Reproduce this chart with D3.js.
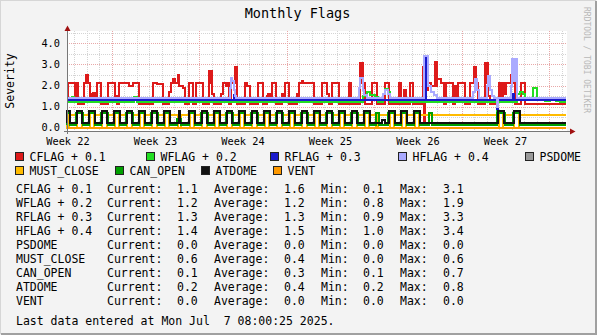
<!DOCTYPE html>
<html>
<head>
<meta charset="utf-8">
<script src="https://cdn.jsdelivr.net/npm/d3@7"></script>
<style>
  html, body { margin: 0; padding: 0; background: #f3f3f3; }
  svg { display: block; }
  text { font-family: "DejaVu Sans Mono", "Liberation Mono", monospace; fill: #000; }
</style>
</head>
<body>
<svg id="chart" width="597" height="335"></svg>
<script>
// ---- time base: every time value below is in days since the graph start ----
const DAY = 864e5;
const graphStart = Date.UTC(2025, 4, 29, 10, 12);
const graphDays = 40;
const dataEnd = 39.92;

// ---- flag series (value + offset), stepped: [day, value] ----
const cflag = [
  [0.00,1.3],[0.06,2.1],[0.86,1.1],[1.38,2.1],[1.52,2.5],[1.68,2.1],[1.84,1.5],[1.92,1.6],[2.10,1.4],
  [2.38,2.1],[2.72,1.1],[3.26,2.1],[3.86,1.5],[3.98,1.1],[4.18,2.1],[4.98,2.0],[5.26,2.1],[5.74,1.1],
  [6.90,2.1],[7.22,2.05],[7.70,1.1],[8.18,1.7],[8.32,2.1],[8.46,2.3],[8.66,2.1],[8.86,2.5],[8.92,2.0],
  [9.26,1.9],[9.46,1.1],[9.78,2.1],[10.10,1.1],[10.32,2.1],[10.86,1.1],[11.38,2.7],[11.60,1.6],[11.78,1.1],
  [12.32,1.6],[12.48,2.1],[12.70,2.0],[12.84,2.1],[12.98,1.1],[13.10,2.1],[13.42,2.9],[13.62,1.1],
  [14.22,2.1],[14.40,2.0],[14.66,1.1],[15.28,2.1],[15.66,1.1],[16.00,1.5],[16.40,2.1],[16.72,1.1],
  [17.20,1.5],[17.46,2.1],[17.74,1.1],[18.40,1.5],[18.54,2.1],[18.80,2.2],[18.90,2.1],[19.74,1.1],
  [20.40,2.1],[20.80,1.6],[20.96,1.1],[21.20,2.1],[21.74,1.1],[22.54,2.1],[22.70,1.1],[23.42,3.05],
  [23.66,2.1],[23.82,1.1],[24.40,2.1],[24.78,1.1],[25.44,2.1],[25.74,1.1],[26.54,2.1],[26.74,1.1],
  [26.96,1.6],[27.14,1.1],[27.42,2.1],[27.68,1.1],[28.48,2.9],[28.58,0.1],[28.66,2.9],[28.88,2.1],
  [29.14,2.0],[29.42,3.1],[29.58,2.3],[29.92,2.1],[30.14,1.1],[30.34,2.1],[30.88,1.1],[31.02,2.0],
  [31.28,2.1],[31.82,1.1],[32.22,2.1],[32.56,2.9],[32.74,2.1],[32.88,1.1],[33.46,3.05],[33.70,1.5],
  [33.84,1.1],[34.38,0.7],[34.46,1.1],[34.48,1.4],[34.56,2.1],[34.70,1.5],[34.84,2.1],[35.00,1.6],
  [35.10,2.1],[35.54,2.5],[35.70,2.1],[35.82,1.1],[36.34,2.1],[36.62,1.1],[39.92,1.1]
];
// stretches where CFLAG flickers between two levels: [from, to, low, high]
const cflagFlicker = [
  [0.66,0.86,1.3,2.1],[2.10,2.38,1.4,1.65],[11.38,11.60,2.1,2.7],[13.42,13.62,2.1,2.9],
  [16.06,16.36,1.4,1.6],[17.20,17.46,1.4,1.6],[18.40,18.54,1.4,1.6],[23.42,23.66,2.1,3.05],
  [26.96,27.14,1.45,1.8],[28.48,28.58,1.1,2.9],[28.66,28.88,1.8,2.9],[29.42,29.58,2.0,3.1],
  [31.02,31.24,1.4,2.0],[33.46,33.70,2.1,3.05]
];
const wflag = [
  [0.00,1.2],[0.40,1.45],[0.58,1.2],[5.38,1.45],[5.58,1.2],[23.68,1.5],[24.00,1.7],[24.24,1.55],
  [24.64,1.45],[24.88,1.2],[25.28,1.6],[25.40,1.85],[25.68,1.7],[25.80,1.2],[34.38,0.8],[34.46,1.2],
  [36.00,1.6],[36.24,1.7],[36.48,1.6],[36.64,1.3],[37.30,1.9],[37.58,1.35],[37.84,1.3],[38.24,1.25],
  [38.64,1.3],[39.12,1.25],[39.44,1.2],[39.92,1.2]
];
const rflag = [
  [0.00,1.3],[13.34,1.55],[13.44,1.3],[28.58,3.3],[28.70,1.3],[34.38,0.9],[34.46,1.3],
  [35.60,1.6],[35.76,1.3],[39.92,1.3]
];
const hflag = [
  [0.00,1.4],[13.06,1.9],[13.12,2.35],[13.22,2.2],[13.32,1.8],[13.44,1.5],[13.52,1.4],
  [23.32,1.9],[23.42,2.35],[23.64,1.8],[23.76,1.55],[24.00,1.4],[25.28,1.6],[25.44,1.8],[25.68,1.6],
  [25.84,1.4],[28.54,3.4],[28.88,2.0],[29.12,1.7],[29.36,1.55],[29.60,1.4],[32.48,1.7],[32.60,2.3],
  [32.80,1.8],[32.92,1.4],[33.56,2.0],[33.64,2.45],[33.84,1.8],[34.00,1.5],[34.16,1.4],[34.38,1.0],
  [34.46,1.4],[35.48,2.0],[35.60,3.25],[36.00,1.4],[39.92,1.4]
];
const hflagFlicker = [[35.62,35.96,2.2,3.2]];

// ---- dome series: base level plus [from, to, level] stretches ----
const psdomeBase = 0.0;
const ventBase = 0.0;
const mustCloseBase = 0.6;
const mustCloseOff = [
  [0.00,0.18,0],[0.80,1.18,0],[1.80,2.18,0],[2.80,3.18,0],[3.80,4.18,0],[4.80,5.18,0],[5.80,6.18,0],
  [6.80,7.18,0],[7.80,8.18,0],[8.86,9.12,0],[9.80,10.18,0],[10.80,11.18,0],[11.80,12.18,0],
  [12.80,13.18,0],[13.80,14.18,0],[14.80,15.18,0],[15.80,16.18,0],[16.80,17.18,0],[17.80,18.18,0],
  [18.80,19.18,0],[19.80,20.18,0],[20.80,21.18,0],[21.80,22.18,0],[22.80,23.18,0],[23.80,24.18,0],
  [24.74,24.90,0],[25.80,26.18,0],[26.76,27.14,0],[27.80,28.18,0],[34.52,34.90,0],[35.76,36.14,0]
];
const canOpenBase = 0.1;
const canOpenOn = [
  [0.00,0.25,0.7],[0.73,1.25,0.7],[1.73,2.25,0.7],[2.73,3.25,0.7],[3.73,4.25,0.7],[4.73,5.25,0.7],
  [5.73,6.25,0.7],[6.73,7.25,0.7],[7.73,8.25,0.7],[8.82,9.12,0.4],[9.73,10.25,0.7],[10.73,11.25,0.7],
  [11.73,12.25,0.7],[12.73,13.25,0.7],[13.73,14.25,0.7],[14.73,15.25,0.7],[15.73,16.25,0.7],
  [16.73,17.25,0.7],[17.73,18.25,0.7],[18.73,19.25,0.7],[19.73,20.25,0.7],[20.73,21.25,0.7],
  [21.73,22.25,0.7],[22.73,23.25,0.7],[23.73,24.25,0.7],[24.72,24.92,0.7],[25.70,26.25,0.7],
  [26.70,27.20,0.7],[27.73,28.25,0.7],[28.96,29.16,0.7],[34.42,35.00,0.7],[35.66,36.26,0.7]
];
const atdomeBase = 0.2;
const atdomeOpen = [
  [0.00,0.22,0.8],[0.78,1.22,0.8],[1.78,2.21,0.8],[2.79,3.22,0.8],[3.78,4.22,0.8],[4.78,5.21,0.8],
  [5.79,6.22,0.8],[6.78,7.22,0.8],[7.78,8.21,0.8],[8.98,9.05,0.8],[9.78,10.22,0.8],[10.78,11.21,0.8],
  [11.79,12.22,0.8],[12.78,13.22,0.8],[13.78,14.21,0.8],[14.78,15.22,0.8],[15.79,16.22,0.8],
  [16.78,17.21,0.8],[17.78,18.22,0.8],[18.78,19.22,0.8],[19.79,20.21,0.8],[20.78,21.22,0.8],
  [21.78,22.22,0.8],[22.78,23.21,0.8],[23.79,24.22,0.8],[25.16,25.44,0.35],[25.78,26.22,0.8],
  [26.74,27.16,0.8],[27.78,28.20,0.8],[34.48,34.96,0.8],[35.72,36.22,0.8]
];

// ---- legend and summary table ----
const seriesNames = ["CFLAG + 0.1","WFLAG + 0.2","RFLAG + 0.3","HFLAG + 0.4","PSDOME","MUST_CLOSE","CAN_OPEN","ATDOME","VENT"];
const seriesColors = ["#dd1a1a","#22dd22","#1a1acc","#aaaaff","#999999","#ffbb00","#00a000","#111111","#ff9900"];
const statCurrent = [1.1,1.2,1.3,1.4,0.0,0.6,0.1,0.2,0.0];
const statAverage = [1.6,1.2,1.3,1.5,0.0,0.4,0.3,0.4,0.0];
const statMin     = [0.1,0.8,0.9,1.0,0.0,0.0,0.1,0.2,0.0];
const statMax     = [3.1,1.9,3.3,3.4,0.0,0.6,0.7,0.8,0.0];
const yMajorTicks = [0,1,2,3,4];
const yMinorTicks = [0.5,1.5,2.5,3.5,4.5];
const titleText = "Monthly Flags";
const yAxisTitle = "Severity";
const lastUpdate = "Last data entered at Mon Jul  7 08:00:25 2025.";

// ---- drawing ----
const svg = d3.select("#chart");
const plot = { left: 67, right: 567, top: 31, bottom: 131 };
const at = d => new Date(graphStart + d * DAY);

const x = d3.scaleUtc().domain([at(0), at(graphDays)]).range([plot.left, plot.right]);
const y = d3.scaleLinear().domain([0, 4]).range([127.6, 43.4]);

// frame
svg.append("rect").attr("width", 597).attr("height", 335).attr("fill", "#f3f3f3");
svg.append("path").attr("d", "M0,334V0H596").attr("fill", "none").attr("stroke", "#d6d6d6").attr("stroke-width", 2);
svg.append("path").attr("d", "M1,334H596V1").attr("fill", "none").attr("stroke", "#a0a0a0").attr("stroke-width", 2);
svg.append("rect").attr("x", plot.left).attr("y", plot.top)
  .attr("width", plot.right - plot.left).attr("height", plot.bottom - plot.top).attr("fill", "#fff");

// grid
const grid = svg.append("g").attr("shape-rendering", "crispEdges").attr("stroke-dasharray", "1,1");
const days = d3.utcDay.range(at(0), at(graphDays));
const mondays = d3.utcMonday.range(at(0), at(graphDays));
const mondaySet = new Set(mondays.map(d => +d));
grid.selectAll(".vmin").data(days.filter(d => !mondaySet.has(+d))).join("line")
  .attr("x1", d => Math.round(x(d)) + 0.5).attr("x2", d => Math.round(x(d)) + 0.5)
  .attr("y1", plot.top).attr("y2", plot.bottom).attr("stroke", "#d4d4d4");
grid.selectAll(".hmin").data(yMinorTicks).join("line")
  .attr("x1", plot.left).attr("x2", plot.right)
  .attr("y1", d => Math.round(y(d)) + 0.5).attr("y2", d => Math.round(y(d)) + 0.5).attr("stroke", "#d4d4d4");
grid.selectAll(".vmaj").data(mondays).join("line")
  .attr("x1", d => Math.round(x(d)) + 0.5).attr("x2", d => Math.round(x(d)) + 0.5)
  .attr("y1", plot.top).attr("y2", plot.bottom).attr("stroke", "#e8a8a8");
grid.selectAll(".hmaj").data(yMajorTicks).join("line")
  .attr("x1", plot.left).attr("x2", plot.right)
  .attr("y1", d => Math.round(y(d)) + 0.5).attr("y2", d => Math.round(y(d)) + 0.5).attr("stroke", "#e8a8a8");

// series
const stepLine = d3.line().x(d => x(at(d[0]))).y(d => y(d[1])).curve(d3.curveStepAfter);
function fromStretches(base, stretches) {
  const pts = [[0, base]];
  stretches.forEach(([a, b, v]) => { pts.push([a, v]); pts.push([b, base]); });
  pts.push([dataEnd, base]);
  return pts;
}
const lines = svg.append("g").attr("fill", "none").attr("stroke-width", 2).attr("shape-rendering", "crispEdges");
function drawFlicker(list, color) {
  lines.selectAll(null).data(list).join("rect")
    .attr("x", d => x(at(d[0]))).attr("width", d => x(at(d[1])) - x(at(d[0])))
    .attr("y", d => y(d[3])).attr("height", d => y(d[2]) - y(d[3]))
    .attr("fill", color).attr("stroke", color);
}
const seriesData = [
  cflag, wflag, rflag, hflag,
  [[0, psdomeBase], [dataEnd, psdomeBase]],
  fromStretches(mustCloseBase, mustCloseOff),
  fromStretches(canOpenBase, canOpenOn),
  fromStretches(atdomeBase, atdomeOpen),
  [[0, ventBase], [dataEnd, ventBase]]
];
seriesData.forEach((s, i) => {
  if (i === 0) drawFlicker(cflagFlicker, seriesColors[0]);
  if (i === 3) drawFlicker(hflagFlicker, seriesColors[3]);
  lines.append("path").attr("d", stepLine(s)).attr("stroke", seriesColors[i]);
});

// axes
const axes = svg.append("g").attr("shape-rendering", "crispEdges");
axes.append("line").attr("x1", 64).attr("x2", 570).attr("y1", 131.5).attr("y2", 131.5).attr("stroke", "#777");
axes.append("line").attr("x1", 67.5).attr("x2", 67.5).attr("y1", 134).attr("y2", 29).attr("stroke", "#777");
svg.append("path").attr("d", "M64.5,31L67.5,25.5L70.5,31Z").attr("fill", "#a01010");
svg.append("path").attr("d", "M570,128.5L575.5,131.5L570,134.5Z").attr("fill", "#a01010");

// axis labels
svg.selectAll(".ylab").data(yMajorTicks).join("text")
  .attr("x", 60).attr("y", d => y(d) + 3.8).attr("text-anchor", "end")
  .attr("font-size", 10.3).text(d3.format(".1f"));
const weekStarts = d3.utcMonday.range(at(-7), at(graphDays))
  .filter(m => +m + 3.5 * DAY >= +at(0) && +m + 3.5 * DAY <= +at(graphDays));
svg.selectAll(".xlab").data(weekStarts).join("text")
  .attr("x", d => x(new Date(+d + 3.5 * DAY))).attr("y", 144.5).attr("text-anchor", "middle")
  .attr("font-size", 10.3).text(d => "Week " + d3.utcFormat("%V")(d));

svg.append("text").attr("x", 297.5).attr("y", 18).attr("text-anchor", "middle")
  .attr("font-size", 13.5).text(titleText);
svg.append("text").attr("transform", "translate(14,81) rotate(-90)").attr("text-anchor", "middle")
  .attr("font-size", 11.5).text(yAxisTitle);
svg.append("text").attr("transform", "translate(583.5,60) rotate(90)").attr("text-anchor", "middle")
  .attr("font-size", 8).style("fill", "#b8b8b8").text("RRDTOOL / TOBI OETIKER");

// legend
const legendPos = [[15,157],[146,157],[270,157],[398,157],[525,157],[15,171],[115,171],[201,171],[273,171]];
const legend = svg.append("g");
seriesNames.forEach((n, i) => {
  const [lx, ly] = legendPos[i];
  legend.append("rect").attr("x", lx + 0.5).attr("y", ly - 4.5).attr("width", 8).attr("height", 8)
    .attr("fill", seriesColors[i]).attr("stroke", "#222").attr("shape-rendering", "crispEdges");
  legend.append("text").attr("x", lx + 14.5).attr("y", ly + 4).attr("font-size", 11.5).text(n);
});

// summary table
const fmt = d3.format(".1f");
const colX = [16, 107, 177, 214, 284, 321, 363, 400, 443];
seriesNames.forEach((n, i) => {
  const ty = 193 + i * 14;
  const cells = [n, "Current:", fmt(statCurrent[i]), "Average:", fmt(statAverage[i]),
                 "Min:", fmt(statMin[i]), "Max:", fmt(statMax[i])];
  cells.forEach((c, j) => {
    svg.append("text").attr("x", colX[j]).attr("y", ty).attr("font-size", 11.5).text(c);
  });
});
svg.append("text").attr("x", 16).attr("y", 325).attr("font-size", 11.5)
  .attr("xml:space", "preserve").style("white-space", "pre").text(lastUpdate);
</script>
</body>
</html>
